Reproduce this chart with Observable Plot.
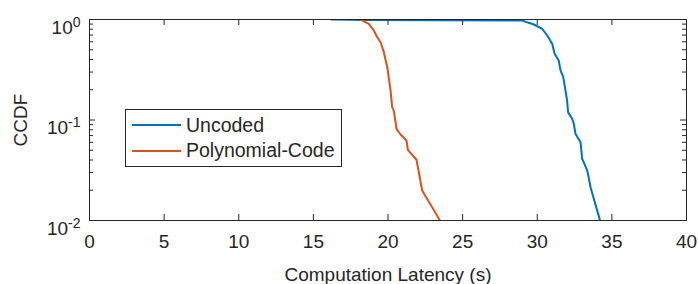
<!DOCTYPE html>
<html><head><meta charset="utf-8">
<script src="https://cdn.jsdelivr.net/npm/d3@7"></script>
<script src="https://cdn.jsdelivr.net/npm/@observablehq/plot@0.6"></script>
<style>
body{margin:0;background:#fff;}
#wrap{position:relative;width:698px;height:284px;font-family:"Liberation Sans",Arial,sans-serif;color:#262626;}
.legend{position:absolute;left:125px;top:109px;width:217px;height:58px;border:1px solid #262626;background:#fff;box-sizing:border-box;}
.row{position:absolute;left:6px;height:20px;display:flex;align-items:center;font-size:19.5px;white-space:nowrap;}
.sw{display:inline-block;width:49px;height:2px;margin-right:5px;}
</style></head><body><div id="wrap"></div>
<script>
// Data
const seriesNames = ["Uncoded", "Polynomial-Code"];
const seriesColors = ["#0072BD", "#D95319"];
const uncodedX = [16.2, 18.5, 29.0, 29.77, 30.33, 30.67, 31.00, 31.16, 31.44, 31.56, 31.74, 31.89, 32.00, 32.07, 32.34, 32.45, 32.56, 32.90, 33.01, 33.35, 33.57, 34.19];
const uncodedY = [1.0, 0.99, 0.975, 0.892, 0.808, 0.693, 0.573, 0.456, 0.391, 0.311, 0.267, 0.197, 0.156, 0.119, 0.103, 0.0917, 0.0729, 0.0601, 0.0411, 0.0315, 0.0214, 0.0102];
const polyX = [18.16, 18.71, 19.05, 19.28, 19.50, 19.72, 19.95, 20.17, 20.28, 20.39, 20.57, 20.84, 21.24, 21.33, 21.91, 22.29, 23.45];
const polyY = [1.0, 0.906, 0.777, 0.667, 0.594, 0.473, 0.335, 0.197, 0.134, 0.124, 0.0817, 0.0717, 0.0625, 0.0505, 0.0402, 0.0199, 0.0102];
const xTicks = [0, 5, 10, 15, 20, 25, 30, 35, 40];
const yTicks = [1, 0.1, 0.01];
const yTickLabels = ["10^0", "10^-1", "10^-2"];
const yMinor = [0.02,0.03,0.04,0.05,0.06,0.07,0.08,0.09,0.2,0.3,0.4,0.5,0.6,0.7,0.8,0.9];

const rows = [
  ...uncodedX.map((x, i) => ({x, y: uncodedY[i], s: seriesNames[0]})),
  ...polyX.map((x, i) => ({x, y: polyY[i], s: seriesNames[1]}))
];

const W = 698, H = 284, mL = 89, mR = 12, mT = 19, mB = 64;
const pw = W - mL - mR, ph = H - mT - mB;
const ink = "#262626";

const chart = Plot.plot({
  width: W, height: H,
  marginLeft: mL, marginRight: mR, marginTop: mT, marginBottom: mB,
  style: {fontFamily: '"Liberation Sans", Arial, sans-serif', fontSize: "19px", color: ink, background: "#fff"},
  x: {domain: [0, 40], ticks: xTicks, tickSize: 0, tickPadding: 14, label: "Computation Latency (s)", labelAnchor: "center", labelArrow: "none", labelOffset: 60},
  y: {type: "log", domain: [0.01, 1], ticks: yTicks, tickSize: 0, tickPadding: 9,
      tickFormat: d => yTickLabels[yTicks.indexOf(d)], label: "CCDF", labelAnchor: "center", labelArrow: "none", labelOffset: 76},
  color: {domain: seriesNames, range: seriesColors},
  marks: [
    Plot.line(rows, {x: "x", y: "y", z: "s", stroke: "s", strokeWidth: 2, clip: true}),
    Plot.frame({stroke: ink, strokeWidth: 1}),
    Plot.tickX(xTicks, {x: d => d, insetTop: ph - 6, stroke: ink}),
    Plot.tickX(xTicks, {x: d => d, insetBottom: ph - 6, stroke: ink}),
    Plot.tickY(yTicks, {y: d => d, insetRight: pw - 6, stroke: ink}),
    Plot.tickY(yTicks, {y: d => d, insetLeft: pw - 6, stroke: ink}),
    Plot.tickY(yMinor, {y: d => d, insetRight: pw - 4, stroke: ink}),
    Plot.tickY(yMinor, {y: d => d, insetLeft: pw - 4, stroke: ink})
  ]
});

// superscript exponents on the log-axis labels
d3.select(chart).selectAll('g[aria-label="y-axis tick label"] text').each(function() {
  const t = d3.select(this);
  const s = t.text();
  const [base, exp] = s.split("^");
  t.text(base);
  t.attr("dy", "0.42em");
  t.append("tspan").attr("dy", "-0.5em").attr("font-size", "14px").text(exp);
});

const wrap = document.getElementById("wrap");
wrap.appendChild(chart);

const legend = document.createElement("div");
legend.className = "legend";
seriesNames.forEach((name, i) => {
  const r = document.createElement("div");
  r.className = "row";
  r.style.top = (5 + i * 25.5) + "px";
  const sw = document.createElement("span");
  sw.className = "sw";
  sw.style.background = seriesColors[i];
  r.appendChild(sw);
  r.appendChild(document.createTextNode(name));
  legend.appendChild(r);
});
wrap.appendChild(legend);
</script>
</body></html>
